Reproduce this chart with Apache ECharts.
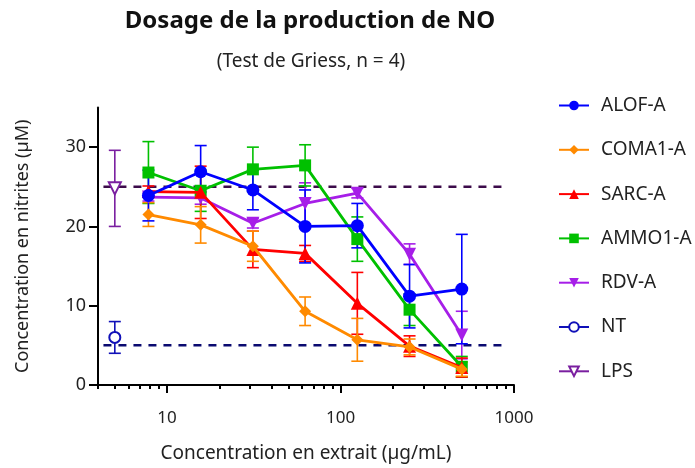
<!DOCTYPE html>
<html>
<head>
<meta charset="utf-8">
<script src="https://cdn.jsdelivr.net/npm/echarts@6/dist/echarts.min.js"></script>
<style>
  html, body { margin: 0; padding: 0; background: #fff; }
  #chart { width: 695px; height: 468px; }
</style>
</head>
<body>
<div id="chart"></div>
<script>
// Extract doses (µg/mL), two-fold dilution series
const doses = [7.8125, 15.625, 31.25, 62.5, 125, 250, 500];

// Mean nitrite concentration (µM) and standard deviation per extract
const alofMean  = [23.9, 26.9, 24.6, 20.0, 20.1, 11.2, 12.1];
const alofSd    = [3.2, 3.3, 2.5, 4.6, 2.8, 4.0, 6.9];
const coma1Mean = [21.5, 20.2, 17.5, 9.3, 5.7, 4.8, 2.0];
const coma1Sd   = [1.5, 2.3, 1.9, 1.8, 2.7, 1.0, 0.9];
const sarcMean  = [24.4, 24.3, 17.1, 16.6, 10.3, 4.9, 2.2];
const sarcSd    = [0.7, 3.3, 2.3, 1.0, 3.9, 1.3, 1.2];
const ammo1Mean = [26.8, 24.5, 27.2, 27.7, 18.4, 9.5, 2.3];
const ammo1Sd   = [3.9, 2.6, 2.8, 2.6, 2.8, 2.0, 1.3];
const rdvMean   = [23.7, 23.6, 20.4, 22.9, 24.2, 16.5, 6.3];
const rdvSd     = [0.5, 0.8, 0.6, 2.6, 0.6, 1.3, 3.0];

// Controls, plotted at a nominal dose
const controlDose = [5];
const ntMean  = [6.0];
const ntSd    = [2.0];
const lpsMean = [24.8];
const lpsSd   = [4.8];

// Reference levels (dashed) and their horizontal span
const ntLevel  = 5.0;
const lpsLevel = 25.0;
const levelSpan = [4.3, 900];

// Axis ticks
const xMajorTicks = [10, 100, 1000];
const xMinorTicks = [4, 5, 6, 7, 8, 9, 20, 30, 40, 50, 60, 70, 80, 90, 200, 300, 400, 500, 600, 700, 800, 900];
const yTicks = [0, 10, 20, 30];

const FONT = 'Noto Sans';

function pairs(xs, ys) { return xs.map((x, i) => [x, ys[i]]); }
function bars(xs, m, s) { return xs.map((x, i) => [x, m[i] - s[i], m[i] + s[i]]); }

function errorSeries(xs, m, s, color, z) {
  return {
    type: 'custom',
    name: '_err',
    xAxisIndex: 0, yAxisIndex: 0,
    encode: { x: 0, y: [1, 2] },
    data: bars(xs, m, s),
    z: z,
    silent: true,
    renderItem: function (params, api) {
      const x = api.value(0);
      const lo = api.coord([x, api.value(1)]);
      const hi = api.coord([x, api.value(2)]);
      const w = 6;
      const st = { stroke: color, lineWidth: 1.6 };
      return {
        type: 'group',
        children: [
          { type: 'line', shape: { x1: lo[0], y1: lo[1], x2: hi[0], y2: hi[1] }, style: st },
          { type: 'line', shape: { x1: lo[0] - w, y1: lo[1], x2: lo[0] + w, y2: lo[1] }, style: st },
          { type: 'line', shape: { x1: hi[0] - w, y1: hi[1], x2: hi[0] + w, y2: hi[1] }, style: st }
        ]
      };
    }
  };
}

function lineSeries(name, xs, m, color, symbol, size, extra, z) {
  return Object.assign({
    type: 'line',
    name: name,
    data: pairs(xs, m),
    symbol: symbol,
    symbolSize: size,
    color: color,
    lineStyle: { color: color, width: 2.8 },
    itemStyle: { color: color },
    z: z,
    animation: false
  }, extra || {});
}

function levelSeries(level, color) {
  return {
    type: 'line',
    name: '_lvl',
    data: levelSpan.map(x => [x, level]),
    symbol: 'none',
    lineStyle: { color: color, width: 2.5, type: [8, 7] },
    z: 1,
    silent: true,
    animation: false
  };
}

const C = {
  alof: '#0000ff', coma1: '#ff8a00', sarc: '#ff0000', ammo1: '#00c000',
  rdv: '#a61ee8', nt: '#1010b8', lps: '#7a1fa0',
  ntLine: '#0a0a70', lpsLine: '#3c0b4a'
};

const option = {
  animation: false,
  backgroundColor: '#ffffff',
  title: [
    {
      text: 'Dosage de la production de NO',
      left: 305, top: 4, textAlign: 'center',
      textStyle: { fontFamily: FONT, fontWeight: 'bold', fontSize: 24, color: '#111' }
    },
    {
      text: '(Test de Griess, n = 4)',
      left: 306, top: 47, textAlign: 'center',
      textStyle: { fontFamily: FONT, fontWeight: 'normal', fontSize: 19, color: '#222' }
    }
  ],
  legend: {
    orient: 'vertical',
    left: 553, top: 91,
    itemWidth: 30, itemHeight: 12,
    itemGap: 25.3,
    data: ['ALOF-A', 'COMA1-A', 'SARC-A', 'AMMO1-A', 'RDV-A', 'NT', 'LPS'],
    textStyle: { fontFamily: FONT, fontSize: 19, color: '#222', padding: [0, 0, 0, 7] },
    selectedMode: false
  },
  grid: { left: 98, right: 181, top: 107.5, bottom: 83, containLabel: false },
  xAxis: [
    {
      type: 'log', logBase: 10, min: 4, max: 1000,
      name: 'Concentration en extrait (µg/mL)',
      nameLocation: 'middle', nameGap: 59,
      nameTextStyle: { fontFamily: FONT, fontSize: 19, color: '#222' },
      axisLine: { show: true, onZero: false, lineStyle: { color: '#000', width: 2 } },
      axisTick: { show: true, length: 8, lineStyle: { color: '#000', width: 2 }, customValues: xMajorTicks },
      axisLabel: {
        fontFamily: FONT, fontSize: 17, color: '#222', margin: 25, customValues: xMajorTicks,
        formatter: v => String(v)
      },
      splitLine: { show: false },
      minorTick: { show: false }
    },
    {
      type: 'log', logBase: 10, min: 4, max: 1000,
      position: 'bottom',
      axisLine: { show: false },
      axisTick: { show: true, length: 4, lineStyle: { color: '#000', width: 2 }, customValues: xMinorTicks },
      axisLabel: { show: false },
      splitLine: { show: false }
    }
  ],
  yAxis: {
    type: 'value', min: 0, max: 35,
    name: 'Concentration en nitrites (µM)',
    nameLocation: 'middle', nameGap: 66, nameRotate: 90,
    nameTextStyle: { fontFamily: FONT, fontSize: 18, color: '#222' },
    axisLine: { show: true, onZero: false, lineStyle: { color: '#000', width: 2 } },
    axisTick: { show: true, length: 9, lineStyle: { color: '#000', width: 2 }, customValues: yTicks },
    axisLabel: { fontFamily: FONT, fontSize: 18, color: '#222', margin: 12, customValues: yTicks },
    splitLine: { show: false }
  },
  series: [
    levelSeries(lpsLevel, C.lpsLine),
    levelSeries(ntLevel, C.ntLine),

    errorSeries(doses, rdvMean, rdvSd, C.rdv, 2),
    errorSeries(doses, ammo1Mean, ammo1Sd, C.ammo1, 2),
    errorSeries(doses, sarcMean, sarcSd, C.sarc, 2),
    errorSeries(doses, coma1Mean, coma1Sd, C.coma1, 2),
    errorSeries(doses, alofMean, alofSd, C.alof, 2),
    errorSeries(controlDose, ntMean, ntSd, C.nt, 2),
    errorSeries(controlDose, lpsMean, lpsSd, C.lps, 2),

    lineSeries('ALOF-A', doses, alofMean, C.alof, 'circle', 13, null, 7),
    lineSeries('COMA1-A', doses, coma1Mean, C.coma1, 'diamond', 12, null, 6),
    lineSeries('SARC-A', doses, sarcMean, C.sarc, 'triangle', 13, null, 5),
    lineSeries('AMMO1-A', doses, ammo1Mean, C.ammo1, 'rect', 12, null, 4),
    lineSeries('RDV-A', doses, rdvMean, C.rdv, 'triangle', 13, { symbolRotate: 180 }, 3),
    lineSeries('NT', controlDose, ntMean, C.nt, 'emptyCircle', 11,
      { itemStyle: { color: C.nt, borderColor: C.nt, borderWidth: 2.5 } }, 5),
    lineSeries('LPS', controlDose, lpsMean, C.lps, 'emptyTriangle', 12,
      { symbolRotate: 180, itemStyle: { color: C.lps, borderColor: C.lps, borderWidth: 2.5 } }, 5)
  ]
};

const chart = echarts.init(document.getElementById('chart'), null, { renderer: 'canvas' });
chart.setOption(option);
</script>
</body>
</html>
